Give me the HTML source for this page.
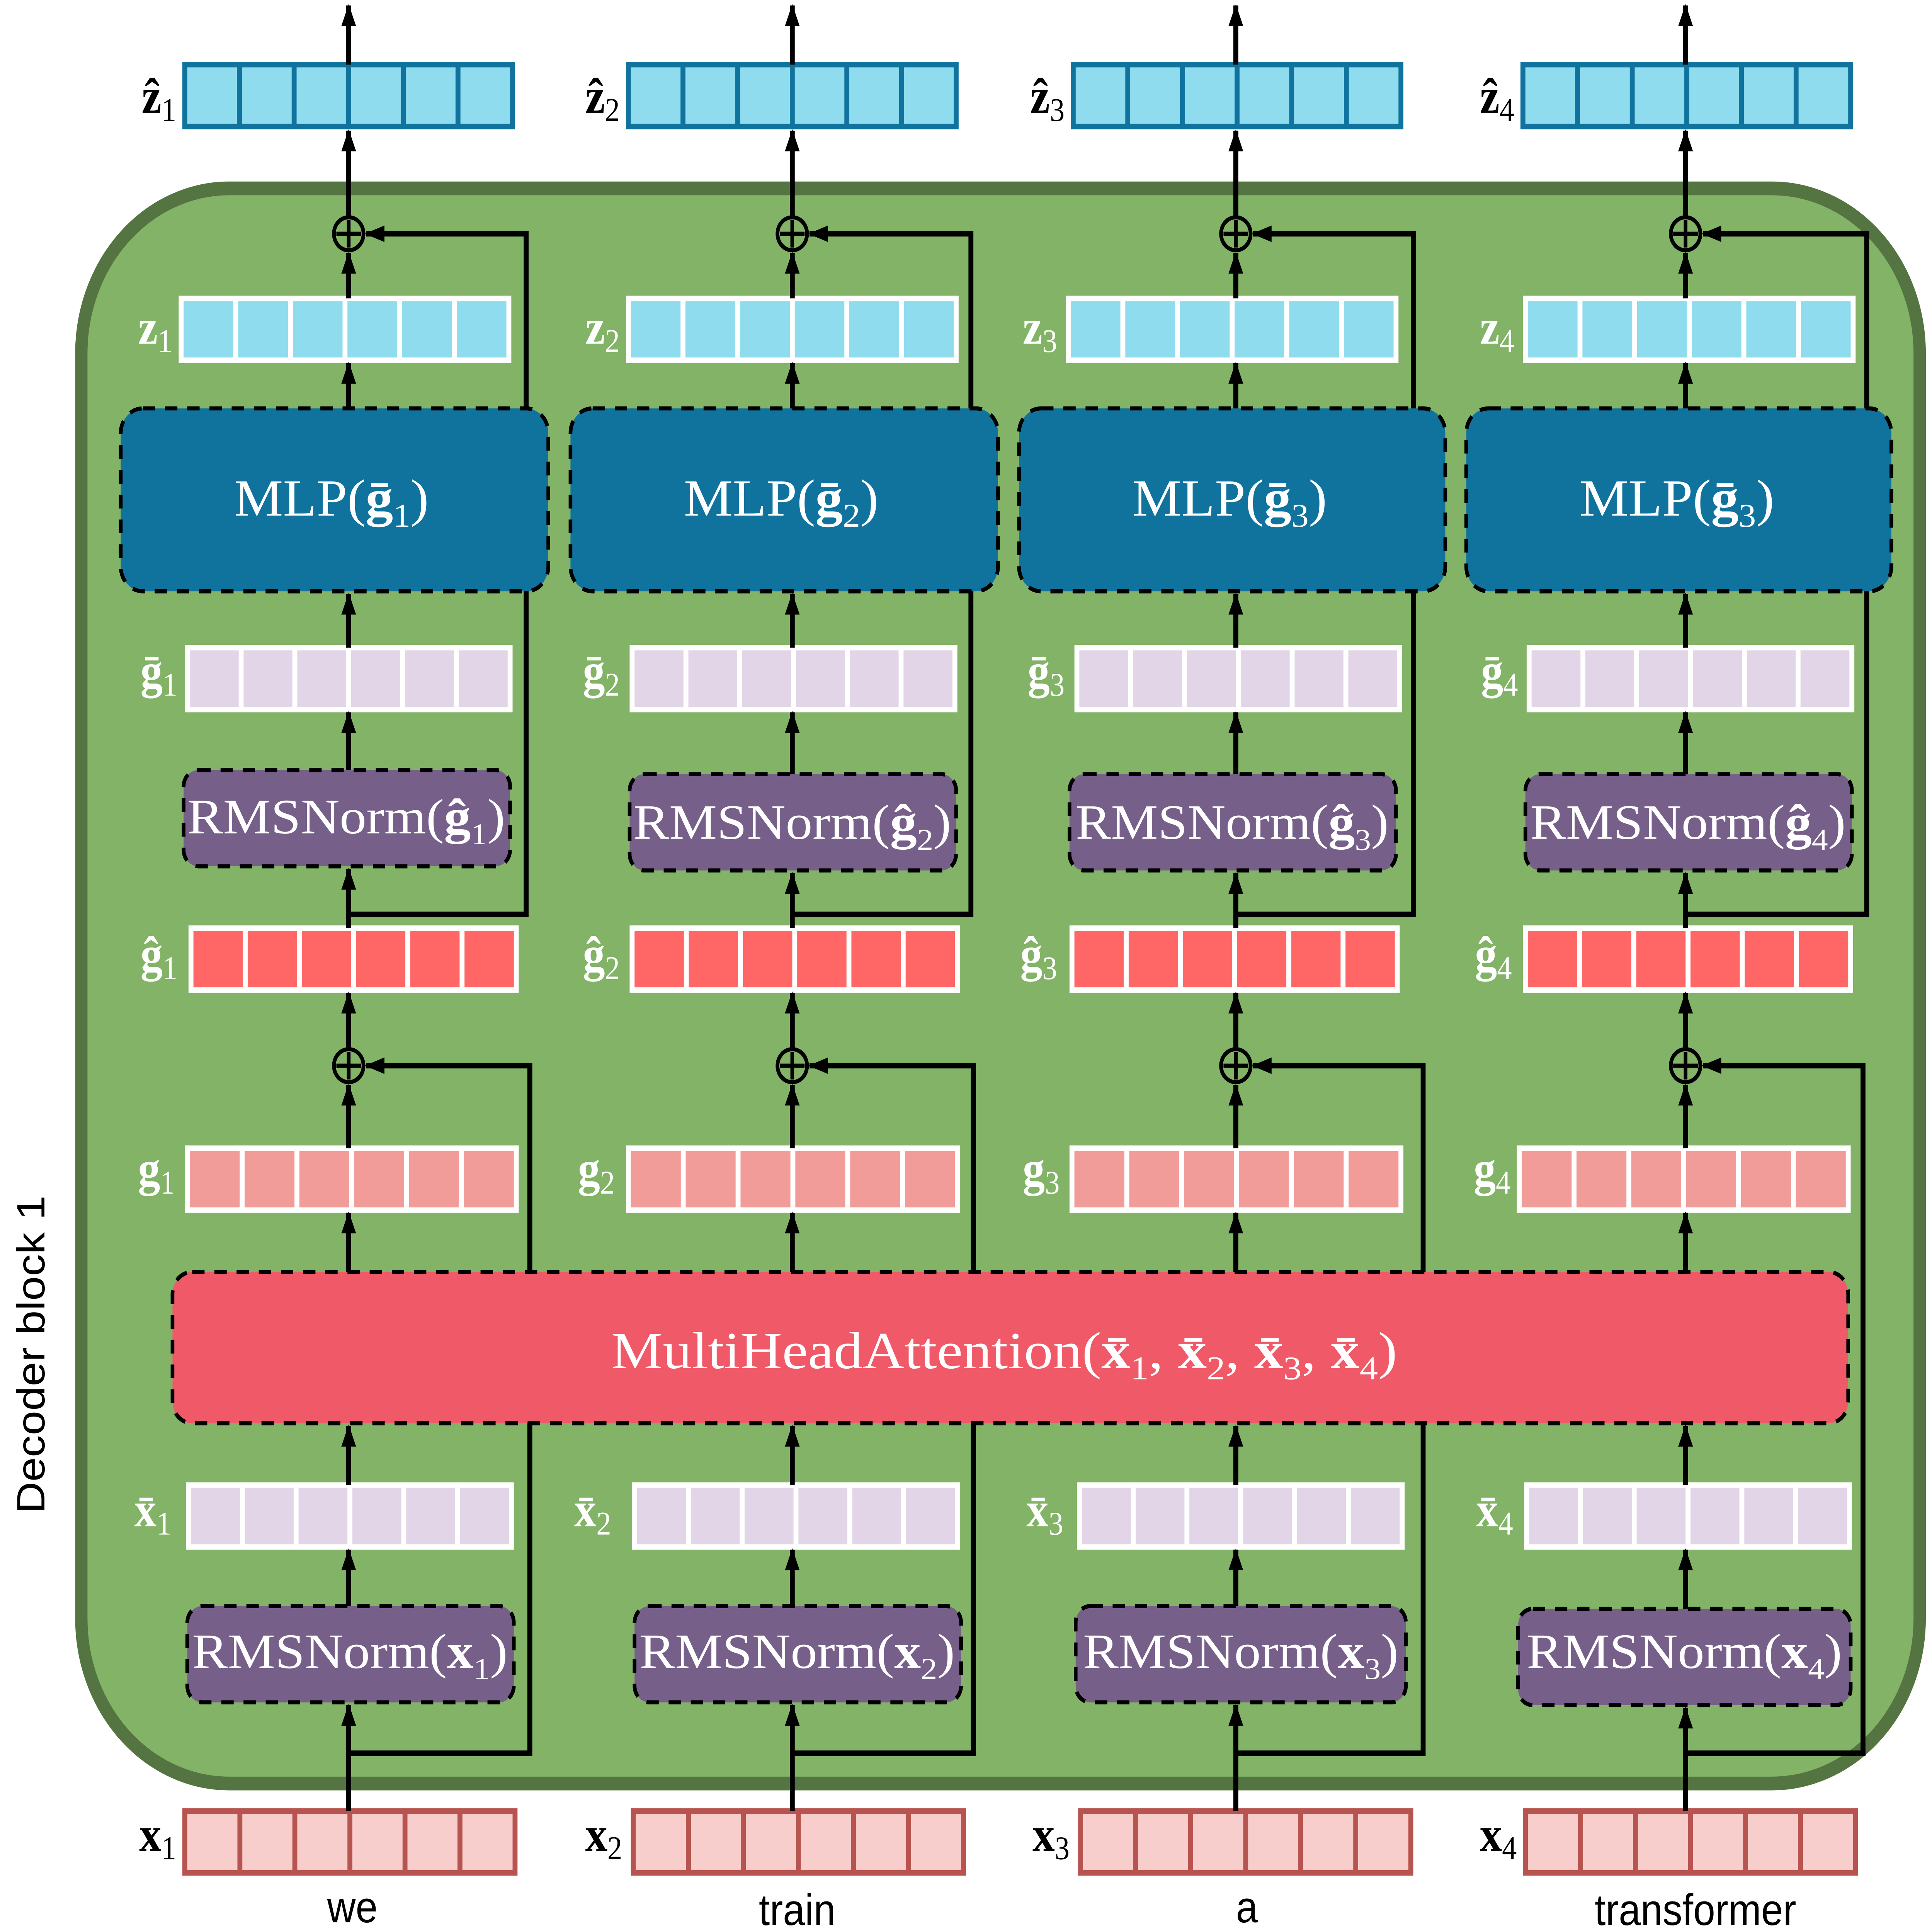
<!DOCTYPE html>
<html><head><style>html,body{margin:0;padding:0;background:#fff;width:100%;height:100%;overflow:hidden}svg{display:block;width:100vw;height:100vh}</style></head>
<body>
<svg xmlns="http://www.w3.org/2000/svg" xmlns:xlink="http://www.w3.org/1999/xlink" viewBox="0 0 1568 1405" preserveAspectRatio="none">
<defs>
<marker id="a" viewBox="0 0 16 12" refX="15" refY="6" markerWidth="16" markerHeight="12" markerUnits="userSpaceOnUse" orient="auto"><path d="M0,0 L16,6 L0,12 z" fill="#000"/></marker>
<g id="v1" stroke="#10739e" stroke-width="4" fill="#8fdcee"><rect x="0" y="0" width="266" height="45"/><path d="M44.3,0V45M88.7,0V45M133,0V45M177.3,0V45M221.7,0V45"/></g>
<g id="v2" stroke="#fff" stroke-width="4" fill="#8fdcee"><rect x="0" y="0" width="266" height="45"/><path d="M44.3,0V45M88.7,0V45M133,0V45M177.3,0V45M221.7,0V45"/></g>
<g id="v3" stroke="#fff" stroke-width="4" fill="#e1d5e7"><rect x="0" y="0" width="262" height="45"/><path d="M43.7,0V45M87.3,0V45M131,0V45M174.7,0V45M218.3,0V45"/></g>
<g id="v4" stroke="#fff" stroke-width="4" fill="#ff6666"><rect x="0" y="0" width="264" height="45"/><path d="M44,0V45M88,0V45M132,0V45M176,0V45M220,0V45"/></g>
<g id="v5" stroke="#fff" stroke-width="4" fill="#f19c99"><rect x="0" y="0" width="267" height="45"/><path d="M44.5,0V45M89,0V45M133.5,0V45M178,0V45M222.5,0V45"/></g>
<g id="v7" stroke="#b85450" stroke-width="4" fill="#f8cecc"><rect x="0" y="0" width="268" height="45"/><path d="M44.7,0V45M89.3,0V45M134,0V45M178.7,0V45M223.3,0V45"/></g>
<g id="plus" fill="none" stroke="#000" stroke-width="3"><circle cx="0" cy="0" r="12"/><path d="M-10,0H10M0,-10V10"/></g>
</defs>
<rect x="66" y="137" width="1492" height="1160" rx="120" fill="#82b366" stroke="#547541" stroke-width="10"/>
<text transform="translate(36,985) rotate(-90)" font-family="Liberation Sans, sans-serif" font-size="32" text-anchor="middle" fill="#000">Decoder block 1</text>
<g stroke="#000" stroke-width="4" fill="none">
<path d="M283,1275 H430 V775 H297" marker-end="url(#a)"/>
<path d="M643,1275 H790 V775 H657" marker-end="url(#a)"/>
<path d="M1003,1275 H1155 V775 H1017" marker-end="url(#a)"/>
<path d="M1368,1275 H1512 V775 H1382" marker-end="url(#a)"/>
<path d="M283,665 H427 V170 H297" marker-end="url(#a)"/>
<path d="M643,665 H788 V170 H657" marker-end="url(#a)"/>
<path d="M1003,665 H1147 V170 H1017" marker-end="url(#a)"/>
<path d="M1368,665 H1515 V170 H1382" marker-end="url(#a)"/>
</g>
<g stroke="#000" stroke-width="3" stroke-dasharray="10,8">
<g fill="#10739e">
<rect x="98" y="297" width="347" height="133" rx="18"/>
<rect x="463" y="297" width="347" height="133" rx="18"/>
<rect x="827" y="297" width="346" height="133" rx="18"/>
<rect x="1190" y="297" width="345" height="133" rx="18"/>
</g>
<g fill="#76608a">
<rect x="149" y="560" width="265" height="70" rx="12"/>
<rect x="511" y="563" width="265" height="70" rx="12"/>
<rect x="868" y="563" width="265" height="70" rx="12"/>
<rect x="1238" y="563" width="265" height="70" rx="12"/>
<rect x="152" y="1168" width="265" height="70" rx="12"/>
<rect x="515" y="1168" width="265" height="70" rx="12"/>
<rect x="873" y="1168" width="268" height="70" rx="12"/>
<rect x="1232" y="1170" width="270" height="70" rx="12"/>
</g>
<rect x="140" y="925" width="1360" height="110" rx="16" fill="#f05a68"/>
</g>
<use xlink:href="#v1" x="150" y="47"/><use xlink:href="#v1" x="510" y="47"/><use xlink:href="#v1" x="871" y="47"/><use xlink:href="#v1" x="1236" y="47"/>
<use xlink:href="#v2" x="147" y="217"/><use xlink:href="#v2" x="510" y="217"/><use xlink:href="#v2" x="867" y="217"/><use xlink:href="#v2" x="1238" y="217"/>
<use xlink:href="#v3" x="152" y="471"/><use xlink:href="#v3" x="513" y="471"/><use xlink:href="#v3" x="874" y="471"/><use xlink:href="#v3" x="1241" y="471"/>
<use xlink:href="#v4" x="155" y="675"/><use xlink:href="#v4" x="513" y="675"/><use xlink:href="#v4" x="870" y="675"/><use xlink:href="#v4" x="1238" y="675"/>
<use xlink:href="#v5" x="152" y="835"/><use xlink:href="#v5" x="510" y="835"/><use xlink:href="#v5" x="870" y="835"/><use xlink:href="#v5" x="1233" y="835"/>
<use xlink:href="#v3" x="153" y="1080"/><use xlink:href="#v3" x="515" y="1080"/><use xlink:href="#v3" x="876" y="1080"/><use xlink:href="#v3" x="1239" y="1080"/>
<use xlink:href="#v7" x="150" y="1317"/><use xlink:href="#v7" x="514" y="1317"/><use xlink:href="#v7" x="877" y="1317"/><use xlink:href="#v7" x="1238" y="1317"/>
<g stroke="#000" stroke-width="4" marker-end="url(#a)">
<line x1="283" y1="1317" x2="283" y2="1240"/><line x1="283" y1="1168" x2="283" y2="1127"/><line x1="283" y1="1080" x2="283" y2="1037"/><line x1="283" y1="925" x2="283" y2="882"/><line x1="283" y1="835" x2="283" y2="789"/><line x1="283" y1="763" x2="283" y2="722"/><line x1="283" y1="675" x2="283" y2="632"/><line x1="283" y1="560" x2="283" y2="518"/><line x1="283" y1="471" x2="283" y2="432"/><line x1="283" y1="297" x2="283" y2="264"/><line x1="283" y1="217" x2="283" y2="184"/><line x1="283" y1="158" x2="283" y2="95"/><line x1="283" y1="47" x2="283" y2="4"/>
<line x1="643" y1="1317" x2="643" y2="1240"/><line x1="643" y1="1168" x2="643" y2="1127"/><line x1="643" y1="1080" x2="643" y2="1037"/><line x1="643" y1="925" x2="643" y2="882"/><line x1="643" y1="835" x2="643" y2="789"/><line x1="643" y1="763" x2="643" y2="722"/><line x1="643" y1="675" x2="643" y2="635"/><line x1="643" y1="563" x2="643" y2="518"/><line x1="643" y1="471" x2="643" y2="432"/><line x1="643" y1="297" x2="643" y2="264"/><line x1="643" y1="217" x2="643" y2="184"/><line x1="643" y1="158" x2="643" y2="95"/><line x1="643" y1="47" x2="643" y2="4"/>
<line x1="1003" y1="1317" x2="1003" y2="1240"/><line x1="1003" y1="1168" x2="1003" y2="1127"/><line x1="1003" y1="1080" x2="1003" y2="1037"/><line x1="1003" y1="925" x2="1003" y2="882"/><line x1="1003" y1="835" x2="1003" y2="789"/><line x1="1003" y1="763" x2="1003" y2="722"/><line x1="1003" y1="675" x2="1003" y2="635"/><line x1="1003" y1="563" x2="1003" y2="518"/><line x1="1003" y1="471" x2="1003" y2="432"/><line x1="1003" y1="297" x2="1003" y2="264"/><line x1="1003" y1="217" x2="1003" y2="184"/><line x1="1003" y1="158" x2="1003" y2="95"/><line x1="1003" y1="47" x2="1003" y2="4"/>
<line x1="1368" y1="1317" x2="1368" y2="1242"/><line x1="1368" y1="1170" x2="1368" y2="1127"/><line x1="1368" y1="1080" x2="1368" y2="1037"/><line x1="1368" y1="925" x2="1368" y2="882"/><line x1="1368" y1="835" x2="1368" y2="789"/><line x1="1368" y1="763" x2="1368" y2="722"/><line x1="1368" y1="675" x2="1368" y2="635"/><line x1="1368" y1="563" x2="1368" y2="518"/><line x1="1368" y1="471" x2="1368" y2="432"/><line x1="1368" y1="297" x2="1368" y2="264"/><line x1="1368" y1="217" x2="1368" y2="184"/><line x1="1368" y1="158" x2="1368" y2="95"/><line x1="1368" y1="47" x2="1368" y2="4"/>
</g>
<use xlink:href="#plus" x="283" y="170"/><use xlink:href="#plus" x="643" y="170"/><use xlink:href="#plus" x="1003" y="170"/><use xlink:href="#plus" x="1368" y="170"/>
<use xlink:href="#plus" x="283" y="775"/><use xlink:href="#plus" x="643" y="775"/><use xlink:href="#plus" x="1003" y="775"/><use xlink:href="#plus" x="1368" y="775"/>
<g font-family="Liberation Serif, serif" font-size="38" fill="#fff" text-anchor="middle" lengthAdjust="spacingAndGlyphs">
<text x="269" y="375" textLength="158" lengthAdjust="spacingAndGlyphs">MLP(<tspan font-weight="bold">ḡ</tspan><tspan font-size="24" dy="8">1</tspan><tspan dy="-8">)</tspan></text>
<text x="634" y="375" textLength="158" lengthAdjust="spacingAndGlyphs">MLP(<tspan font-weight="bold">ḡ</tspan><tspan font-size="24" dy="8">2</tspan><tspan dy="-8">)</tspan></text>
<text x="998" y="375" textLength="158" lengthAdjust="spacingAndGlyphs">MLP(<tspan font-weight="bold">ḡ</tspan><tspan font-size="24" dy="8">3</tspan><tspan dy="-8">)</tspan></text>
<text x="1361" y="375" textLength="158" lengthAdjust="spacingAndGlyphs">MLP(<tspan font-weight="bold">ḡ</tspan><tspan font-size="24" dy="8">3</tspan><tspan dy="-8">)</tspan></text>
<g font-size="36">
<text x="281" y="606" textLength="258" lengthAdjust="spacingAndGlyphs">RMSNorm(<tspan font-weight="bold">ĝ</tspan><tspan font-size="22" dy="8">1</tspan><tspan dy="-8">)</tspan></text>
<text x="643" y="610" textLength="258" lengthAdjust="spacingAndGlyphs">RMSNorm(<tspan font-weight="bold">ĝ</tspan><tspan font-size="22" dy="8">2</tspan><tspan dy="-8">)</tspan></text>
<text x="1000" y="610" textLength="254" lengthAdjust="spacingAndGlyphs">RMSNorm(<tspan font-weight="bold">ĝ</tspan><tspan font-size="22" dy="8">3</tspan><tspan dy="-8">)</tspan></text>
<text x="1370" y="610" textLength="256" lengthAdjust="spacingAndGlyphs">RMSNorm(<tspan font-weight="bold">ĝ</tspan><tspan font-size="22" dy="8">4</tspan><tspan dy="-8">)</tspan></text>
<text x="284" y="1213" textLength="256" lengthAdjust="spacingAndGlyphs">RMSNorm(<tspan font-weight="bold">x</tspan><tspan font-size="22" dy="8">1</tspan><tspan dy="-8">)</tspan></text>
<text x="647" y="1213" textLength="256" lengthAdjust="spacingAndGlyphs">RMSNorm(<tspan font-weight="bold">x</tspan><tspan font-size="22" dy="8">2</tspan><tspan dy="-8">)</tspan></text>
<text x="1007" y="1213" textLength="256" lengthAdjust="spacingAndGlyphs">RMSNorm(<tspan font-weight="bold">x</tspan><tspan font-size="22" dy="8">3</tspan><tspan dy="-8">)</tspan></text>
<text x="1367" y="1213" textLength="256" lengthAdjust="spacingAndGlyphs">RMSNorm(<tspan font-weight="bold">x</tspan><tspan font-size="22" dy="8">4</tspan><tspan dy="-8">)</tspan></text>
</g>
<text x="815" y="995" textLength="638" lengthAdjust="spacingAndGlyphs">MultiHeadAttention(<tspan font-weight="bold">x̄</tspan><tspan font-size="24" dy="8">1</tspan><tspan dy="-8">, </tspan><tspan font-weight="bold">x̄</tspan><tspan font-size="24" dy="8">2</tspan><tspan dy="-8">, </tspan><tspan font-weight="bold">x̄</tspan><tspan font-size="24" dy="8">3</tspan><tspan dy="-8">, </tspan><tspan font-weight="bold">x̄</tspan><tspan font-size="24" dy="8">4</tspan><tspan dy="-8">)</tspan></text>
</g>
<g font-family="Liberation Serif, serif" font-size="36" font-weight="bold" text-anchor="end">
<g fill="#000">
<text x="143" y="82">ẑ<tspan font-size="24" font-weight="normal" dy="6">1</tspan></text>
<text x="503" y="82">ẑ<tspan font-size="24" font-weight="normal" dy="6">2</tspan></text>
<text x="864" y="82">ẑ<tspan font-size="24" font-weight="normal" dy="6">3</tspan></text>
<text x="1229" y="82">ẑ<tspan font-size="24" font-weight="normal" dy="6">4</tspan></text>
<text x="143" y="1346">x<tspan font-size="24" font-weight="normal" dy="6">1</tspan></text>
<text x="505" y="1346">x<tspan font-size="24" font-weight="normal" dy="6">2</tspan></text>
<text x="868" y="1346">x<tspan font-size="24" font-weight="normal" dy="6">3</tspan></text>
<text x="1231" y="1346">x<tspan font-size="24" font-weight="normal" dy="6">4</tspan></text>
</g>
<g fill="#fff">
<text x="140" y="250">z<tspan font-size="24" font-weight="normal" dy="6">1</tspan></text>
<text x="503" y="250">z<tspan font-size="24" font-weight="normal" dy="6">2</tspan></text>
<text x="858" y="250">z<tspan font-size="24" font-weight="normal" dy="6">3</tspan></text>
<text x="1229" y="250">z<tspan font-size="24" font-weight="normal" dy="6">4</tspan></text>
<text x="144" y="500">ḡ<tspan font-size="24" font-weight="normal" dy="6">1</tspan></text>
<text x="503" y="500">ḡ<tspan font-size="24" font-weight="normal" dy="6">2</tspan></text>
<text x="864" y="500">ḡ<tspan font-size="24" font-weight="normal" dy="6">3</tspan></text>
<text x="1232" y="500">ḡ<tspan font-size="24" font-weight="normal" dy="6">4</tspan></text>
<text x="144" y="706">ĝ<tspan font-size="24" font-weight="normal" dy="6">1</tspan></text>
<text x="503" y="706">ĝ<tspan font-size="24" font-weight="normal" dy="6">2</tspan></text>
<text x="858" y="706">ĝ<tspan font-size="24" font-weight="normal" dy="6">3</tspan></text>
<text x="1227" y="706">ĝ<tspan font-size="24" font-weight="normal" dy="6">4</tspan></text>
<text x="142" y="862">g<tspan font-size="24" font-weight="normal" dy="6">1</tspan></text>
<text x="499" y="862">g<tspan font-size="24" font-weight="normal" dy="6">2</tspan></text>
<text x="860" y="862">g<tspan font-size="24" font-weight="normal" dy="6">3</tspan></text>
<text x="1226" y="862">g<tspan font-size="24" font-weight="normal" dy="6">4</tspan></text>
<text x="139" y="1110">x̄<tspan font-size="24" font-weight="normal" dy="6">1</tspan></text>
<text x="496" y="1110">x̄<tspan font-size="24" font-weight="normal" dy="6">2</tspan></text>
<text x="863" y="1110">x̄<tspan font-size="24" font-weight="normal" dy="6">3</tspan></text>
<text x="1228" y="1110">x̄<tspan font-size="24" font-weight="normal" dy="6">4</tspan></text>
</g>
</g>
<g font-family="Liberation Sans, sans-serif" font-size="32" text-anchor="middle" fill="#000">
<text x="286" y="1398">we</text>
<text x="647" y="1400">train</text>
<text x="1012" y="1398">a</text>
<text x="1376" y="1400">transformer</text>
</g>
</svg>
</body></html>
